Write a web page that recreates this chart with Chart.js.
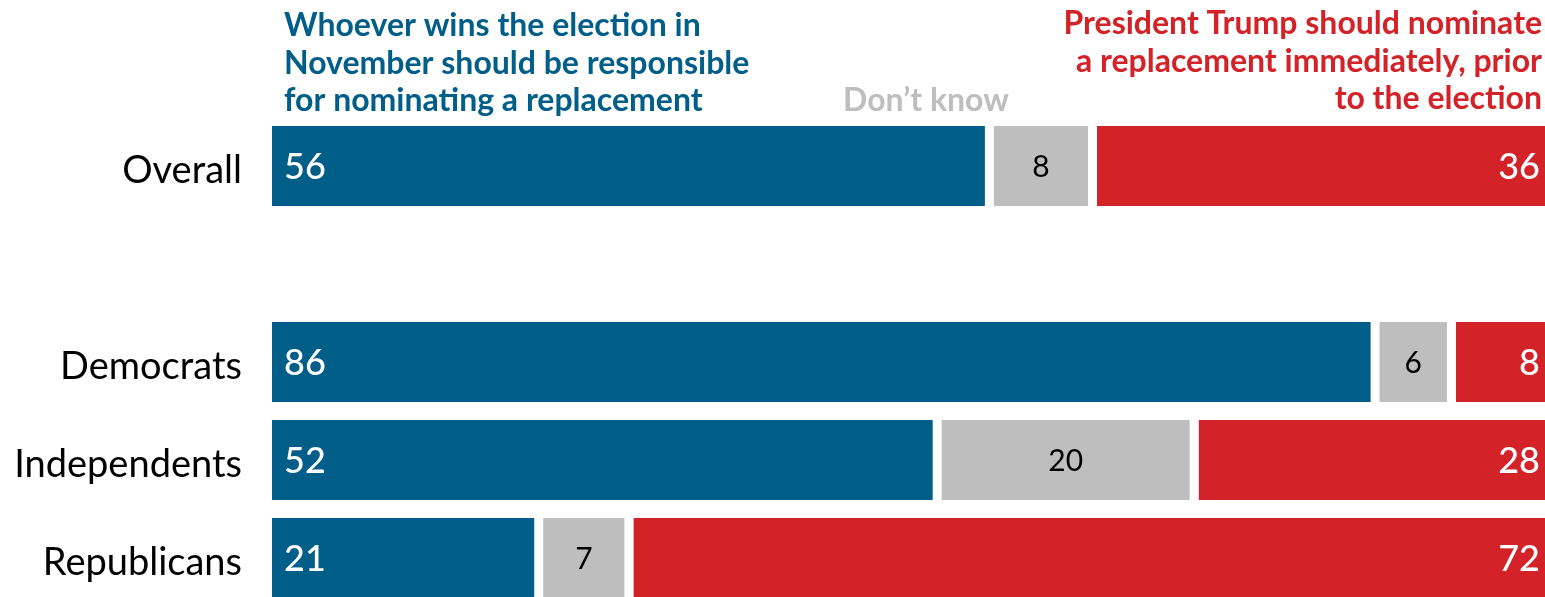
<!DOCTYPE html>
<html>
<head>
<meta charset="utf-8">
<script src="https://cdn.jsdelivr.net/npm/chart.js@4"></script>
<style>
  html, body { margin: 0; padding: 0; background: #fff; overflow: hidden; }
</style>
</head>
<body>
<canvas id="chart" width="1545" height="607"></canvas>
<script>
// données du graphique (étiquettes arrondies)
const categories = ['Overall', '', 'Democrats', 'Independents', 'Republicans'];
const newPresident = [56.0, null, 86.3, 51.9, 20.6];
const dontKnow = [8.1, null, 6.0, 20.2, 7.1];
const trumpNow = [35.9, null, 7.7, 27.9, 72.3];

const seriesNames = ['Whoever wins the election in November should be responsible for nominating a replacement', "Don’t know", 'President Trump should nominate a replacement immediately, prior to the election'];
const blueHeader = ['Whoever wins the election in', 'November should be responsible', 'for nominating a replacement'];
const redHeader = ['President Trump should nominate', 'a replacement immediately, prior', 'to the election'];

const BLUE = '#005e89';
const GREY = '#bebebe';
const RED = '#d32228';
const GAP = 9;

// étiquettes des valeurs + en-têtes
const labelsPlugin = {
    id: 'labels',
    afterDatasetsDraw(chart) {
        const ctx = chart.ctx;
        ctx.save();
        ctx.textBaseline = 'middle';
        chart.data.datasets.forEach((ds, i) => {
            const meta = chart.getDatasetMeta(i);
            meta.data.forEach((bar, j) => {
                const v = ds.data[j];
                if (v === null) return;
                const txt = Math.round(v);
                const p = bar.getProps(['x', 'y', 'base'], true);
                if (i === 0) {
                    ctx.fillStyle = '#fff';
                    ctx.font = '500 36px Lato';
                    ctx.textAlign = 'left';
                    ctx.fillText(txt, p.base + 12, p.y + 1);
                } else if (i === 1) {
                    ctx.fillStyle = '#000';
                    ctx.font = '400 30px Lato';
                    ctx.textAlign = 'center';
                    ctx.fillText(txt, (p.base + GAP + p.x) / 2, p.y + 1);
                } else {
                    ctx.fillStyle = '#fff';
                    ctx.font = '500 36px Lato';
                    ctx.textAlign = 'right';
                    ctx.fillText(txt, p.x - 5, p.y + 1);
                }
            });
        });

        // en-têtes au-dessus des barres
        const area = chart.chartArea;
        ctx.textBaseline = 'alphabetic';
        ctx.font = 'bold 32px Lato';
        ctx.fillStyle = BLUE;
        ctx.textAlign = 'left';
        blueHeader.forEach((t, k) => ctx.fillText(t, area.left + 12, 36 + k * 37.5));
        ctx.fillStyle = RED;
        ctx.textAlign = 'right';
        redHeader.forEach((t, k) => ctx.fillText(t, area.right - 3, 34 + k * 37.5));
        ctx.fillStyle = GREY;
        ctx.textAlign = 'center';
        ctx.fillText(seriesNames[1], 926, 111);
        ctx.restore();
    }
};

new Chart(document.getElementById('chart'), {
    type: 'bar',
    data: {
        labels: categories,
        datasets: [{
            label: seriesNames[0],
            data: newPresident,
            backgroundColor: BLUE,
            borderWidth: 0
        }, {
            label: seriesNames[1],
            data: dontKnow,
            backgroundColor: GREY,
            borderColor: '#fff',
            borderWidth: { top: 0, bottom: 0, left: GAP, right: 0 },
            borderSkipped: false
        }, {
            label: seriesNames[2],
            data: trumpNow,
            backgroundColor: RED,
            borderColor: '#fff',
            borderWidth: { top: 0, bottom: 0, left: GAP, right: 0 },
            borderSkipped: false
        }]
    },
    options: {
        indexAxis: 'y',
        responsive: false,
        animation: false,
        layout: { padding: { top: 117, bottom: 0, left: 0, right: 0 } },
        datasets: { bar: { barPercentage: 0.816, categoryPercentage: 1, inflateAmount: 0 } },
        scales: {
            x: {
                stacked: true,
                min: 0,
                max: 100,
                display: false
            },
            y: {
                stacked: true,
                grid: { display: false, drawTicks: false },
                border: { display: false },
                ticks: {
                    color: '#000',
                    font: { family: 'Lato', size: 38 },
                    padding: 30,
                    labelOffset: 5
                },
                afterFit(scale) {
                    scale.width = 272;
                    scale.paddingTop = 0;
                    scale.paddingBottom = 0;
                }
            }
        },
        plugins: {
            legend: { display: false },
            tooltip: { enabled: false }
        }
    },
    plugins: [labelsPlugin]
});
</script>
</body>
</html>
